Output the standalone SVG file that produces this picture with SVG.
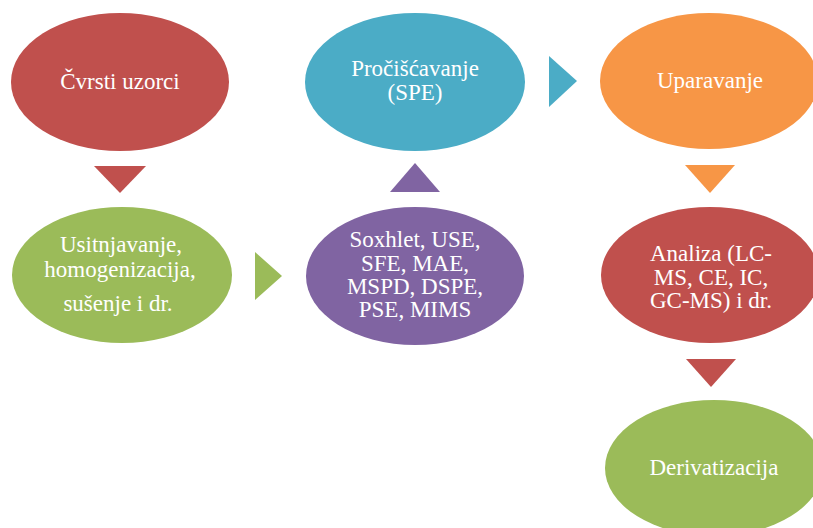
<svg xmlns="http://www.w3.org/2000/svg" width="813" height="528" viewBox="0 0 813 528">
  <style>
    .t { font-family: "Liberation Serif", "Times New Roman", serif; font-size: 23px; fill: #ffffff; text-anchor: middle; }
    .red { fill: #C0504D; }
    .green { fill: #9BBB59; }
    .blue { fill: #4BACC6; }
    .purple { fill: #8064A2; }
    .orange { fill: #F79646; }
  </style>
  <rect width="813" height="528" fill="#ffffff"/>
  <g id="connectors">
    <polygon class="red" points="94,166 146,166 120,193"/>
    <polygon class="green" points="255,252 255,300 282,276"/>
    <polygon class="purple" points="390,192 440,192 415,163"/>
    <polygon class="blue" points="549,56 549,107 577,81"/>
    <polygon class="orange" points="685,165 735,165 710,193"/>
    <polygon class="red" points="686,359 736,359 711,387"/>
  </g>
  <g id="n-cvrsti">
    <ellipse class="red" cx="120" cy="82" rx="109" ry="69"/>
    <text class="t" x="120" y="89">Čvrsti uzorci</text>
  </g>
  <g id="n-usitnjavanje">
    <ellipse class="green" cx="122" cy="275" rx="110" ry="68"/>
    <text class="t" x="121" y="252">Usitnjavanje,</text>
    <text class="t" x="120" y="277">homogenizacija,</text>
    <text class="t" x="118" y="311">sušenje i dr.</text>
  </g>
  <g id="n-soxhlet">
    <ellipse class="purple" cx="415" cy="276" rx="109" ry="69"/>
    <text class="t" x="415" y="247">Soxhlet, USE,</text>
    <text class="t" x="415" y="271">SFE, MAE,</text>
    <text class="t" x="415" y="294">MSPD, DSPE,</text>
    <text class="t" x="415" y="317">PSE, MIMS</text>
  </g>
  <g id="n-prociscavanje">
    <ellipse class="blue" cx="415" cy="82" rx="110" ry="69"/>
    <text class="t" x="415" y="76">Pročišćavanje</text>
    <text class="t" x="415" y="100">(SPE)</text>
  </g>
  <g id="n-uparavanje">
    <ellipse class="orange" cx="709" cy="81" rx="109" ry="68"/>
    <text class="t" x="710" y="88">Uparavanje</text>
  </g>
  <g id="n-analiza">
    <ellipse class="red" cx="710" cy="275" rx="109" ry="68"/>
    <text class="t" x="711" y="261">Analiza (LC-</text>
    <text class="t" x="711" y="285">MS, CE, IC,</text>
    <text class="t" x="711" y="308">GC-MS) i dr.</text>
  </g>
  <g id="n-derivatizacija">
    <ellipse class="green" cx="714" cy="468" rx="109" ry="68"/>
    <text class="t" x="714" y="475">Derivatizacija</text>
  </g>
</svg>
